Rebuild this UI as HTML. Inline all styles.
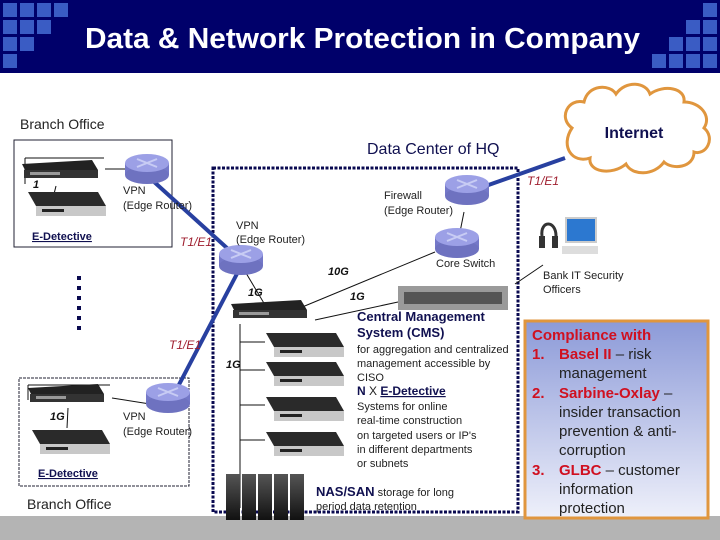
<!DOCTYPE html>
<html><head><meta charset="utf-8"><style>
body{margin:0;width:720px;height:540px;overflow:hidden;background:#fff;font-family:"Liberation Sans",sans-serif}
svg{display:block}
</style></head><body>
<svg width="720" height="540" viewBox="0 0 720 540" font-family="Liberation Sans, sans-serif">
<defs>
<linearGradient id="cg" x1="0" y1="0" x2="0" y2="1"><stop offset="0" stop-color="#8c9ad8"/><stop offset="1" stop-color="#eef0fa"/></linearGradient>
<linearGradient id="dev" x1="0" y1="0" x2="0" y2="1"><stop offset="0" stop-color="#555"/><stop offset="1" stop-color="#111"/></linearGradient>
<g id="rt"><rect x="-22" y="-6" width="44" height="12" fill="#7478c8"/><ellipse cx="0" cy="6" rx="22" ry="9" fill="#6e72c0"/><ellipse cx="0" cy="-6" rx="22" ry="9" fill="#9ca0e6"/><path d="M-10-10 L10-2 M10-10 L-10-2" stroke="#c8ccf4" stroke-width="2"/></g>
<g id="ed"><polygon points="0,0 70,0 78,14 8,14" fill="#2a2a2a"/><rect x="8" y="14" width="70" height="10" fill="#c8c8c8"/><rect x="14" y="17" width="22" height="3" fill="#222"/></g>
<g id="sw"><polygon points="0,4 70,0 76,10 6,16" fill="#222"/><rect x="2" y="10" width="74" height="8" fill="#333"/><rect x="8" y="12" width="30" height="3" fill="#999"/></g>
</defs>
<rect x="0" y="516" width="720" height="24" fill="#b4b4b4"/>
<rect x="0" y="0" width="720" height="73" fill="#00006a"/>
<g fill="#3a5cc4">
<rect x="3" y="3" width="14" height="14"/><rect x="20" y="3" width="14" height="14"/><rect x="37" y="3" width="14" height="14"/><rect x="54" y="3" width="14" height="14"/>
<rect x="3" y="20" width="14" height="14"/><rect x="20" y="20" width="14" height="14"/><rect x="37" y="20" width="14" height="14"/>
<rect x="3" y="37" width="14" height="14"/><rect x="20" y="37" width="14" height="14"/>
<rect x="3" y="54" width="14" height="14"/>
<rect x="703" y="3" width="14" height="14"/>
<rect x="686" y="20" width="14" height="14"/><rect x="703" y="20" width="14" height="14"/>
<rect x="669" y="37" width="14" height="14"/><rect x="686" y="37" width="14" height="14"/><rect x="703" y="37" width="14" height="14"/>
<rect x="652" y="54" width="14" height="14"/><rect x="669" y="54" width="14" height="14"/><rect x="686" y="54" width="14" height="14"/><rect x="703" y="54" width="14" height="14"/>
</g>
<text x="85" y="48" fill="#fff" font-size="29" font-weight="bold" textLength="555" lengthAdjust="spacingAndGlyphs">Data &amp; Network Protection in Company</text>

<!-- cloud -->
<path d="M572,128 C558,118 568,98 584,102 C588,84 610,84 616,94 C626,80 646,82 650,94 C664,84 686,88 684,102 C700,102 712,116 704,128 C716,138 706,156 694,152 C694,168 672,170 664,162 C654,176 632,176 626,164 C612,176 588,172 590,158 C572,164 560,146 572,128 Z" fill="#fff" stroke="#e0963e" stroke-width="3"/>
<text x="634" y="138" fill="#101050" font-size="16" font-weight="bold" text-anchor="middle">Internet</text>

<!-- boxes -->
<rect x="14" y="140" width="158" height="107" fill="none" stroke="#223" stroke-width="1"/>
<rect x="19" y="378" width="170" height="108" fill="none" stroke="#223" stroke-width="1" stroke-dasharray="3,1"/>
<rect x="213" y="168" width="305" height="344" fill="none" stroke="#0a0a50" stroke-width="3" stroke-dasharray="3,1.5"/>
<text x="20" y="129" font-size="14" fill="#222">Branch Office</text>
<text x="27" y="509" font-size="14" fill="#222">Branch Office</text>
<text x="367" y="154" font-size="16" fill="#101050">Data Center of HQ</text>
<g fill="#0a0a50"><rect x="77" y="276" width="4" height="4"/><rect x="77" y="286" width="4" height="4"/><rect x="77" y="296" width="4" height="4"/><rect x="77" y="306" width="4" height="4"/><rect x="77" y="316" width="4" height="4"/><rect x="77" y="326" width="4" height="4"/></g>

<!-- thin lines -->
<g stroke="#111" stroke-width="1" fill="none">
<line x1="105" y1="169" x2="130" y2="169"/><line x1="56" y1="186" x2="54" y2="194"/>
<line x1="112" y1="398" x2="150" y2="404"/><line x1="68" y1="408" x2="67" y2="428"/>
<line x1="246" y1="273" x2="271" y2="315"/><line x1="283" y1="315" x2="435" y2="252"/>
<line x1="315" y1="320" x2="398" y2="302"/><line x1="464" y1="212" x2="460" y2="232"/>
<line x1="240" y1="324" x2="240" y2="508"/>
<line x1="240" y1="342" x2="265" y2="342"/><line x1="240" y1="370" x2="265" y2="370"/><line x1="240" y1="405" x2="265" y2="405"/><line x1="240" y1="440" x2="265" y2="440"/>
<line x1="515" y1="284" x2="543" y2="265"/>
<line x1="25" y1="184" x2="25" y2="158"/><line x1="25" y1="158" x2="104" y2="158"/>
<line x1="28" y1="400" x2="28" y2="385"/><line x1="28" y1="385" x2="110" y2="385"/>
</g>
<!-- thick blue -->
<g stroke="#2840a0" stroke-width="4" fill="none">
<line x1="152" y1="180" x2="238" y2="258"/>
<line x1="240" y1="268" x2="172" y2="398"/>
<line x1="480" y1="188" x2="565" y2="158"/>
</g>
<!-- routers -->
<use href="#rt" x="147" y="169"/>
<use href="#rt" x="241" y="260"/>
<use href="#rt" x="467" y="190"/>
<use href="#rt" x="457" y="243"/>
<use href="#rt" x="168" y="398"/>
<!-- devices -->
<use href="#sw" x="22" y="160"/>
<use href="#ed" x="28" y="192"/>
<use href="#sw" x="28" y="384"/>
<use href="#ed" x="32" y="430"/>
<use href="#sw" x="231" y="300"/>
<use href="#ed" x="266" y="333"/><use href="#ed" x="266" y="362"/><use href="#ed" x="266" y="397"/><use href="#ed" x="266" y="432"/>
<rect x="398" y="286" width="110" height="24" fill="#9a9a9a"/><rect x="404" y="292" width="98" height="12" fill="#555"/>
<g fill="url(#dev)"><rect x="226" y="474" width="14" height="46"/><rect x="242" y="474" width="14" height="46"/><rect x="258" y="474" width="14" height="46"/><rect x="274" y="474" width="14" height="46"/><rect x="290" y="474" width="14" height="46"/></g>
<!-- pc -->
<rect x="566" y="218" width="30" height="24" fill="#2c78d0" stroke="#ccc" stroke-width="2"/><rect x="562" y="246" width="36" height="8" fill="#ddd"/>
<path d="M542,236 C540,220 556,220 556,236" fill="none" stroke="#333" stroke-width="3"/><rect x="539" y="236" width="6" height="12" fill="#333"/><rect x="552" y="236" width="6" height="12" fill="#333"/>

<!-- labels -->
<g font-size="11" fill="#222">
<text x="123" y="194">VPN</text><text x="123" y="209">(Edge Router)</text>
<text x="236" y="229">VPN</text><text x="236" y="243">(Edge Router)</text>
<text x="384" y="199">Firewall</text><text x="384" y="214">(Edge Router)</text>
<text x="436" y="267">Core Switch</text>
<text x="123" y="420">VPN</text><text x="123" y="435">(Edge Router)</text>
<text x="543" y="279">Bank IT Security</text><text x="543" y="293">Officers</text>
</g>
<g font-size="12" fill="#a02030" font-style="italic">
<text x="180" y="246">T1/E1</text><text x="169" y="349">T1/E1</text><text x="527" y="185">T1/E1</text>
</g>
<g font-size="11" fill="#111" font-weight="bold" font-style="italic">
<text x="33" y="188">1</text><text x="328" y="275">10G</text><text x="248" y="296">1G</text><text x="350" y="300">1G</text><text x="226" y="368">1G</text><text x="50" y="420">1G</text>
</g>
<g font-size="11" font-weight="bold" fill="#101050" text-decoration="underline">
<text x="32" y="240">E-Detective</text><text x="38" y="477">E-Detective</text>
</g>
<text x="357" y="321" font-size="13" font-weight="bold" fill="#101050">Central Management</text>
<text x="357" y="337" font-size="13" font-weight="bold" fill="#101050">System (CMS)</text>
<g font-size="11" fill="#222">
<text x="357" y="353">for aggregation and centralized</text>
<text x="357" y="367">management accessible by</text>
<text x="357" y="381">CISO</text>
<text x="357" y="395" font-size="12"><tspan font-weight="bold" fill="#101050">N</tspan> X <tspan font-weight="bold" fill="#101050" text-decoration="underline">E-Detective</tspan></text>
<text x="357" y="410">Systems for online</text>
<text x="357" y="424">real-time construction</text>
<text x="357" y="439">on targeted users or IP's</text>
<text x="357" y="453">in different departments</text>
<text x="357" y="467">or subnets</text>
<text x="316" y="496"><tspan font-size="13" font-weight="bold" fill="#101050">NAS/SAN</tspan>  storage for long</text>
<text x="316" y="510">period data retention</text>
</g>
<!-- compliance -->
<rect x="525" y="321" width="183" height="197" fill="url(#cg)" stroke="#e0963e" stroke-width="3"/>
<g font-size="15" fill="#222">
<text x="532" y="340" fill="#d01020" font-weight="bold">Compliance with</text>
<text x="532" y="359"><tspan fill="#d01020" font-weight="bold">1.</tspan><tspan x="559" fill="#d01020" font-weight="bold">Basel II</tspan> – risk</text>
<text x="559" y="378">management</text>
<text x="532" y="398"><tspan fill="#d01020" font-weight="bold">2.</tspan><tspan x="559" fill="#d01020" font-weight="bold">Sarbine-Oxlay</tspan> –</text>
<text x="559" y="417">insider transaction</text>
<text x="559" y="436">prevention &amp; anti-</text>
<text x="559" y="455">corruption</text>
<text x="532" y="475"><tspan fill="#d01020" font-weight="bold">3.</tspan><tspan x="559" fill="#d01020" font-weight="bold">GLBC</tspan> – customer</text>
<text x="559" y="494">information</text>
<text x="559" y="513">protection</text>
</g>
</svg>
</body></html>
